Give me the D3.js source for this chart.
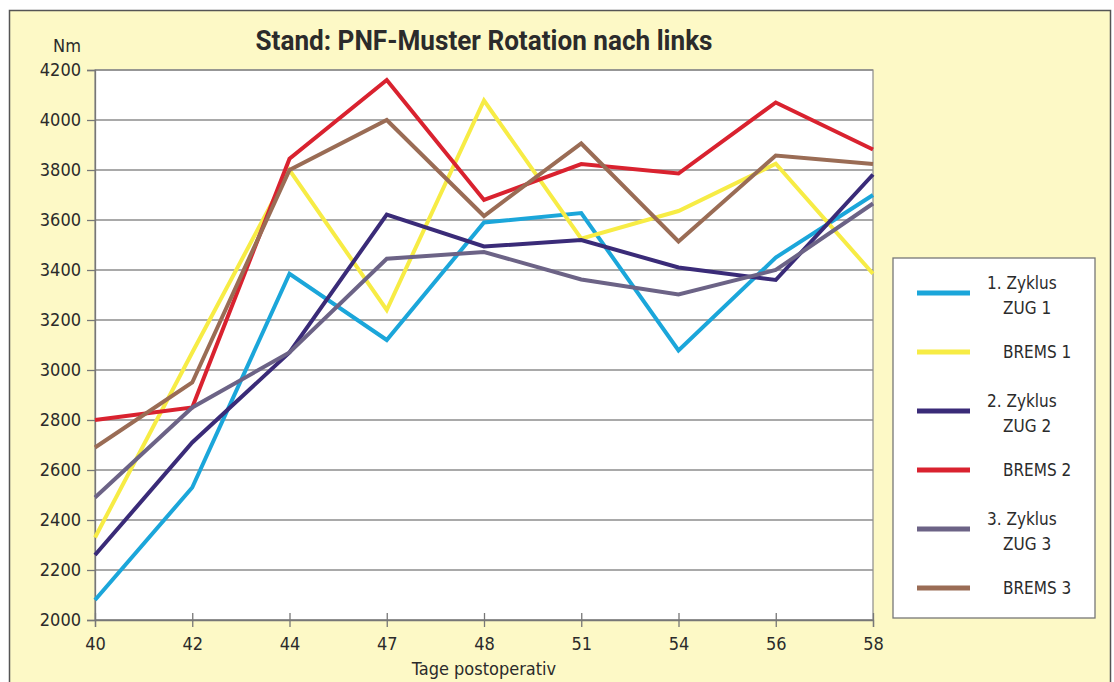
<!DOCTYPE html>
<html>
<head>
<meta charset="utf-8">
<script src="https://cdn.jsdelivr.net/npm/d3@7"></script>
<style>
  body { margin: 0; background: #fff; }
  svg text { font-family: "DejaVu Sans Condensed", "Liberation Sans Narrow", "Roboto", sans-serif; fill: #2b2b2b; }
</style>
</head>
<body>
<div id="chart"></div>
<script>
// days after surgery (categorical axis)
const days = ['40', '42', '44', '47', '48', '51', '54', '56', '58'];
const yTicks = [2000, 2200, 2400, 2600, 2800, 3000, 3200, 3400, 3600, 3800, 4000, 4200];

const zug1   = [2080, 2530, 3385, 3120, 3590, 3628, 3078, 3450, 3700];
const brems1 = [2330, 3070, 3800, 3240, 4078, 3525, 3636, 3825, 3385];
const zug2   = [2260, 2710, 3070, 3622, 3494, 3520, 3410, 3360, 3782];
const brems2 = [2800, 2850, 3845, 4160, 3680, 3824, 3786, 4070, 3882];
const zug3   = [2490, 2850, 3070, 3445, 3472, 3362, 3302, 3400, 3666];
const brems3 = [2690, 2950, 3800, 4000, 3616, 3906, 3514, 3858, 3824];

const seriesNames = [['1. Zyklus', 'ZUG 1'], ['BREMS 1'], ['2. Zyklus', 'ZUG 2'], ['BREMS 2'], ['3. Zyklus', 'ZUG 3'], ['BREMS 3']];
const seriesValues = [zug1, brems1, zug2, brems2, zug3, brems3];
const colors = ['#1ba6da', '#f7ec45', '#3a2b78', '#d9222f', '#6c6386', '#9a6c55'];

const config = {
  width: 1114, height: 682,
  plotLeft: 95, plotRight: 873, plotTop: 70, plotBottom: 620,
  bg: '#fdf9c6'
};

const svg = d3.select('#chart').append('svg')
  .attr('width', config.width)
  .attr('height', config.height);

// outer frame
svg.append('rect')
  .attr('x', 9.5).attr('y', 10.5)
  .attr('width', 1101).attr('height', 700)
  .attr('fill', config.bg)
  .attr('stroke', '#555').attr('stroke-width', 1.5);

const x = d3.scalePoint().domain(days).range([config.plotLeft, config.plotRight]);
const y = d3.scaleLinear().domain([2000, 4200]).range([config.plotBottom, config.plotTop]);

// plot background
svg.append('rect')
  .attr('x', config.plotLeft).attr('y', config.plotTop)
  .attr('width', config.plotRight - config.plotLeft)
  .attr('height', config.plotBottom - config.plotTop)
  .attr('fill', '#ffffff')
  .attr('stroke', '#8a8a8a').attr('stroke-width', 1.2);

// gridlines
svg.append('g').selectAll('line')
  .data(yTicks)
  .join('line')
  .attr('x1', config.plotLeft).attr('x2', config.plotRight)
  .attr('y1', d => y(d)).attr('y2', d => y(d))
  .attr('stroke', '#8c8c8c').attr('stroke-width', 1.3);

// y axis
const axisY = svg.append('g')
  .attr('transform', `translate(${config.plotLeft},0)`)
  .call(d3.axisLeft(y).tickValues(yTicks).tickSize(8).tickPadding(6).tickFormat(d3.format('d')));
axisY.select('.domain').attr('stroke', '#777').attr('stroke-width', 1.3);
axisY.selectAll('.tick line').attr('stroke', '#777').attr('stroke-width', 1.3);
axisY.selectAll('text').style('font-size', '18px').attr('fill', '#2b2b2b');

// x axis
const axisX = svg.append('g')
  .attr('transform', `translate(0,${config.plotBottom})`)
  .call(d3.axisBottom(x).tickSize(7).tickPadding(10));
axisX.select('.domain').attr('stroke', '#777').attr('stroke-width', 1.3);
axisX.selectAll('.tick line').attr('y1', -7).attr('stroke', '#777').attr('stroke-width', 1.3);
axisX.selectAll('text').style('font-size', '18px').attr('fill', '#2b2b2b');

// lines
const line = d3.line()
  .x((d, i) => x(days[i]))
  .y(d => y(d));

svg.append('g').selectAll('path')
  .data(seriesValues)
  .join('path')
  .attr('d', d => line(d))
  .attr('fill', 'none')
  .attr('stroke', (d, i) => colors[i])
  .attr('stroke-width', 4)
  .attr('stroke-linejoin', 'miter');

// title and axis labels
svg.append('text')
  .attr('x', 484).attr('y', 50)
  .attr('text-anchor', 'middle')
  .attr('textLength', 457)
  .attr('lengthAdjust', 'spacingAndGlyphs')
  .style('font-family', 'Roboto, "DejaVu Sans Condensed", sans-serif')
  .style('font-size', '28px').style('font-weight', 'bold')
  .text('Stand: PNF-Muster Rotation nach links');

svg.append('text')
  .attr('x', 81).attr('y', 52)
  .attr('text-anchor', 'end')
  .style('font-size', '18px')
  .text('Nm');

svg.append('text')
  .attr('x', 484).attr('y', 675)
  .attr('text-anchor', 'middle')
  .style('font-size', '18px')
  .text('Tage postoperativ');

// legend
const legend = svg.append('g').attr('class', 'legend');
legend.append('rect')
  .attr('x', 893).attr('y', 258)
  .attr('width', 202).attr('height', 360)
  .attr('fill', '#ffffff')
  .attr('stroke', '#777').attr('stroke-width', 1.3);

const legendItems = legend.selectAll('.legend-item')
  .data(seriesNames)
  .join('g')
  .attr('class', 'legend-item')
  .attr('transform', (d, i) => `translate(0, ${293 + i * 59})`);

legendItems.append('line')
  .attr('x1', 917).attr('x2', 970)
  .attr('y1', 0).attr('y2', 0)
  .attr('stroke', (d, i) => colors[i])
  .attr('stroke-width', 5);

legendItems.each(function(d) {
  const g = d3.select(this);
  if (d.length === 2) {
    g.append('text').attr('x', 987).attr('y', -4).style('font-size', '17px').text(d[0]);
    g.append('text').attr('x', 1003).attr('y', 21).style('font-size', '17px').text(d[1]);
  } else {
    g.append('text').attr('x', 1003).attr('y', 6).style('font-size', '17px').text(d[0]);
  }
});
</script>
</body>
</html>
